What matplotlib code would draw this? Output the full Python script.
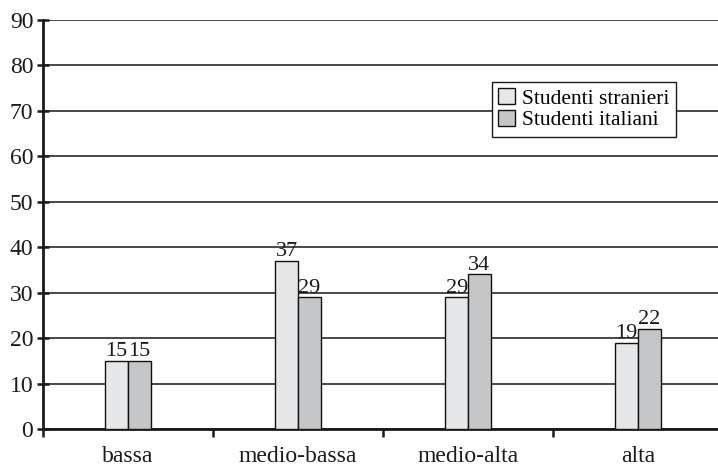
import matplotlib
matplotlib.use("Agg")
import matplotlib.pyplot as plt
import numpy as np

categories = ["bassa", "medio-bassa", "medio-alta", "alta"]
stranieri = [15, 37, 29, 19]
italiani = [15, 29, 34, 22]
series_names = ["Studenti stranieri", "Studenti italiani"]
y_ticks = [0, 10, 20, 30, 40, 50, 60, 70, 80, 90]

plt.rcParams["font.family"] = ["Liberation Serif", "DejaVu Serif"]
fs_tick = 17
fs_val = 16
fs_leg = 15.5

fig = plt.figure(figsize=(7.18, 4.69), dpi=100)
ax = fig.add_axes([43 / 718, 40 / 469, 680 / 718, 409 / 469])

x = np.arange(len(categories))
w = 0.1335
light = "#e6e7e8"
dark = "#c5c6c8"
b1 = ax.bar(x - w / 2, stranieri, w, color=light, edgecolor="#111111", linewidth=1.0, zorder=3,
            label=series_names[0])
b2 = ax.bar(x + w / 2, italiani, w, color=dark, edgecolor="#111111", linewidth=1.0, zorder=3,
            label=series_names[1])

for bars, vals in ((b1, stranieri), (b2, italiani)):
    for r, v in zip(bars, vals):
        ax.text(r.get_x() + r.get_width() / 2, v - 0.1, str(v), ha="center", va="bottom",
                fontsize=fs_val, color="#1a1a1a", zorder=4)

ax.set_xlim(-0.5, 3.5)
ax.set_ylim(0, 90)
ax.set_yticks(y_ticks)
ax.set_yticklabels([str(t) for t in y_ticks], fontsize=fs_tick, color="#1a1a1a")
ax.yaxis.grid(True, color="#2a2a2a", linewidth=1.2, zorder=0)
ax.set_axisbelow(True)

# category boundaries carry the ticks, labels sit at category centres
ax.set_xticks(np.arange(-0.5, 3.5, 1.0))
ax.set_xticklabels([])
ax.set_xticks(x, minor=True)
ax.set_xticklabels(categories, minor=True, fontsize=fs_tick, color="#1a1a1a")
ax.tick_params(axis="x", which="major", direction="out", length=6, width=1.8, color="#1a1a1a")
ax.tick_params(axis="x", which="minor", length=0, pad=12)
ax.tick_params(axis="y", direction="inout", length=9, width=1.8, color="#1a1a1a", pad=2.5)

for s in ("top", "right"):
    ax.spines[s].set_visible(False)
ax.spines["left"].set_linewidth(2.0)
ax.spines["left"].set_color("#1a1a1a")
ax.spines["bottom"].set_linewidth(2.0)
ax.spines["bottom"].set_color("#1a1a1a")

leg = fig.legend(handles=[b1, b2], loc="upper left", bbox_to_anchor=(492 / 718, 1 - 82 / 469),
                 fontsize=fs_leg, frameon=True, fancybox=False, framealpha=1, edgecolor="#1a1a1a",
                 handlelength=0.75, handleheight=0.75, handletextpad=0.35, borderpad=0.3,
                 labelspacing=0.05, borderaxespad=0)
leg.get_frame().set_linewidth(1.0)

fig.savefig("out.png", dpi=100)
